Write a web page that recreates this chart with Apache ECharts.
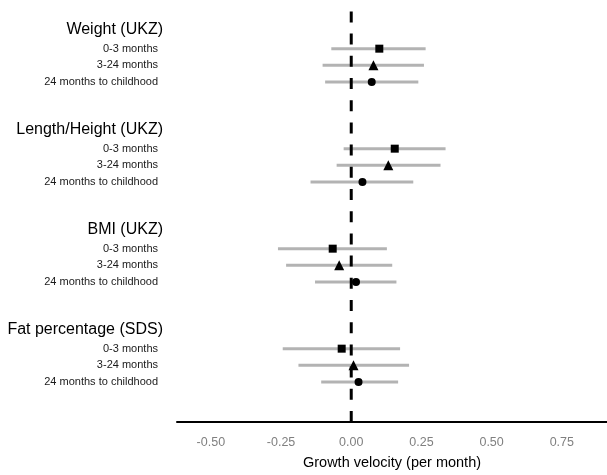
<!DOCTYPE html>
<html>
<head>
<meta charset="utf-8">
<script src="https://cdn.jsdelivr.net/npm/echarts@6/dist/echarts.min.js"></script>
<style>html,body{margin:0;padding:0;background:#fff}#c{width:607px;height:475px}</style>
</head>
<body>
<div id="c"></div>
<script>
const groups = ['Weight (UKZ)', 'Length/Height (UKZ)', 'BMI (UKZ)', 'Fat percentage (SDS)'];
const periods = ['0-3 months', '3-24 months', '24 months to childhood'];
const shapes = ['rect', 'triangle', 'circle'];
// estimates [group][period]
const est = [
  [0.100, 0.079, 0.073],
  [0.155, 0.132, 0.040],
  [-0.066, -0.043, 0.017],
  [-0.034, 0.008, 0.026]
];
const lower = [
  [-0.071, -0.102, -0.093],
  [-0.027, -0.052, -0.145],
  [-0.261, -0.232, -0.129],
  [-0.244, -0.188, -0.107]
];
const upper = [
  [0.265, 0.259, 0.239],
  [0.336, 0.318, 0.221],
  [0.127, 0.146, 0.161],
  [0.174, 0.206, 0.167]
];
const xTicks = [-0.50, -0.25, 0.00, 0.25, 0.50, 0.75];
const xMin = -0.6206, xMax = 0.911;

// build rows: header, 3 periods, 2 blanks per group
const rowLabels = [];
const rowKind = [];
groups.forEach(function (g) {
  rowLabels.push(g); rowKind.push('h');
  periods.forEach(function (p) { rowLabels.push(p); rowKind.push('i'); });
  rowLabels.push(''); rowKind.push('b');
  rowLabels.push(''); rowKind.push('b');
});
const rowKeys = rowLabels.map(function (_, i) { return 'r' + i; });

const ciData = [];
const pointSeries = shapes.map(function (s, k) {
  return {
    type: 'scatter', xAxisIndex: 0, yAxisIndex: 0, symbol: s,
    symbolSize: s === 'circle' ? 8 : (s === 'triangle' ? 10 : 8),
    itemStyle: { color: '#000', opacity: 1 }, z: 5, silent: true,
    data: []
  };
});
groups.forEach(function (g, gi) {
  periods.forEach(function (p, pi) {
    const row = gi * 6 + 1 + pi;
    ciData.push([lower[gi][pi], upper[gi][pi], row]);
    pointSeries[pi].data.push([est[gi][pi], row]);
  });
});

const chart = echarts.init(document.getElementById('c'), null, { renderer: 'canvas' });
chart.setOption({
  animation: false,
  backgroundColor: '#fff',
  grid: [
    { left: 177, right: 0, top: 23.67, height: 400, containLabel: false },
    { left: 177, right: 0, top: 11, bottom: 49.5, containLabel: false }
  ],
  xAxis: [
    { gridIndex: 0, type: 'value', min: xMin, max: xMax, show: false },
    {
      gridIndex: 1, type: 'value', min: xMin, max: xMax,
      axisLine: { show: true, lineStyle: { color: '#000', width: 2 } },
      axisTick: { show: false },
      splitLine: { show: false },
      axisLabel: {
        customValues: xTicks, color: '#808080', fontSize: 12.5, margin: 14,
        fontFamily: 'Liberation Sans',
        formatter: function (v) { return v.toFixed(2); }
      },
      name: 'Growth velocity (per month)', nameLocation: 'middle', nameGap: 33,
      nameTextStyle: { color: '#000', fontSize: 14.5, fontFamily: 'Liberation Sans' }
    }
  ],
  yAxis: [
    {
      gridIndex: 0, type: 'category', inverse: true, data: rowKeys,
      axisLine: { show: false }, axisTick: { show: false }, splitLine: { show: false },
      axisLabel: {
        interval: 0, margin: 14, align: 'right',
        formatter: function (v, i) {
          const idx = rowKeys.indexOf(v);
          const t = rowLabels[idx];
          if (!t) return '';
          return rowKind[idx] === 'h' ? '{h|' + t + '}' : '{i|' + t + '}';
        },
        rich: {
          h: { fontSize: 16, color: '#000', fontFamily: 'Liberation Sans', padding: [0, 0, 5, 0] },
          i: { fontSize: 11, color: '#1a1a1a', fontFamily: 'Liberation Sans', padding: [0, 5, 0, 0] }
        }
      }
    },
    { gridIndex: 1, type: 'value', min: 0, max: 1, show: false }
  ],
  series: [
    {
      type: 'custom', xAxisIndex: 0, yAxisIndex: 0, silent: true, z: 2,
      encode: { x: [0, 1], y: 2 },
      data: ciData,
      renderItem: function (params, api) {
        const a = api.coord([api.value(0), api.value(2)]);
        const b = api.coord([api.value(1), api.value(2)]);
        return {
          type: 'line',
          shape: { x1: a[0], y1: a[1], x2: b[0], y2: b[1] },
          style: { stroke: '#b3b3b3', lineWidth: 3 }
        };
      }
    },
    {
      type: 'line', xAxisIndex: 1, yAxisIndex: 1, silent: true, z: 3,
      symbol: 'none',
      data: [[0, 0], [0, 1]],
      lineStyle: { color: '#000', width: 3, type: [11, 11.2] }
    }
  ].concat(pointSeries)
});
</script>
</body>
</html>
